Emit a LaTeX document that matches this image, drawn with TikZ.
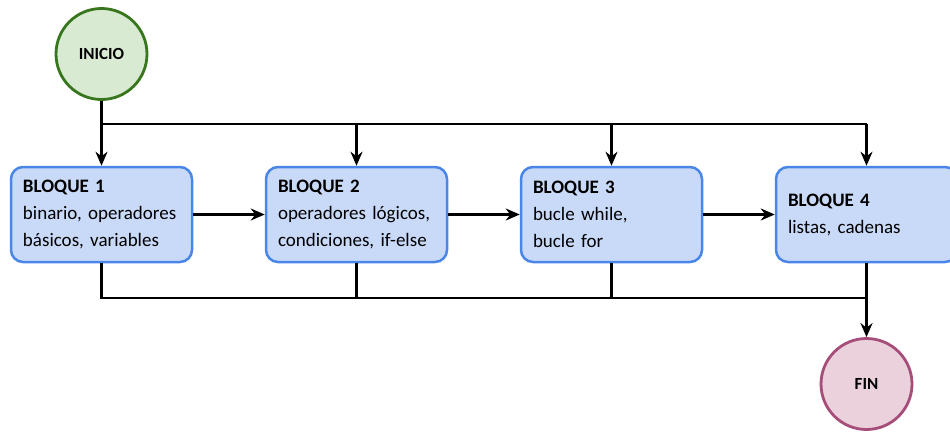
\documentclass[tikz,border=0pt]{standalone}
\usepackage{fontspec}
\setmainfont{Carlito}
\usetikzlibrary{arrows.meta}
\definecolor{blockfill}{HTML}{C9DAF8}
\definecolor{blockline}{HTML}{4A86E8}
\definecolor{startfill}{HTML}{D9EAD3}
\definecolor{startline}{HTML}{38761D}
\definecolor{endfill}{HTML}{EAD1DC}
\definecolor{endline}{HTML}{A64D79}
\tikzset{
  stepbox/.style={draw=blockline, fill=blockfill, line width=2.5pt, rounded corners=12pt,
    text width=157pt, inner xsep=12pt, inner ysep=0pt, minimum height=95pt, align=left,
    font=\fontsize{19}{27}\selectfont},
  terminal/.style={circle, line width=2.8pt, minimum size=91pt, inner sep=0pt,
    font=\fontsize{17}{20}\selectfont\bfseries},
  link/.style={line width=2.3pt, draw=black},
  arrow/.style={link, -{Stealth[length=14pt,width=12pt]}}
}
\begin{document}
\begin{tikzpicture}[x=1pt,y=-1pt]
\useasboundingbox (0,0) rectangle (950,431);
% start and end
\node[terminal, draw=startline, fill=startfill] (ini) at (101.5,54) {INICIO};
\node[terminal, draw=endline, fill=endfill] (fin) at (866.5,384) {FIN};
% blocks
\node[stepbox] (b1) at (101.5,214.5) {\textbf{BLOQUE 1}\\binario, operadores\\básicos, variables};
\node[stepbox] (b2) at (356.5,214.5) {\textbf{BLOQUE 2}\\operadores lógicos,\\condiciones, if-else};
\node[stepbox] (b3) at (611.5,214.5) {\textbf{BLOQUE 3}\\bucle while,\\bucle for};
\node[stepbox] (b4) at (866.5,214.5) {\textbf{BLOQUE 4}\\listas, cadenas};
% bus coordinates
\coordinate (t1) at (b1.north |- 0,124);
\coordinate (t2) at (b2.north |- 0,124);
\coordinate (t3) at (b3.north |- 0,124);
\coordinate (t4) at (b4.north |- 0,124);
\coordinate (u1) at (b1.south |- 0,298);
\coordinate (u2) at (b2.south |- 0,298);
\coordinate (u3) at (b3.south |- 0,298);
\coordinate (u4) at (b4.south |- 0,298);
% top distribution
\draw[link] (ini.south) -- (t1);
\draw[link] (t1) -- (t4);
\draw[arrow] (t1) -- (b1.north);
\draw[arrow] (t2) -- (b2.north);
\draw[arrow] (t3) -- (b3.north);
\draw[arrow] (t4) -- (b4.north);
% sequence
\draw[arrow] (b1.east) -- (b2.west);
\draw[arrow] (b2.east) -- (b3.west);
\draw[arrow] (b3.east) -- (b4.west);
% bottom collection
\draw[link] (b1.south) -- (u1) -- (u4);
\draw[link] (b2.south) -- (u2);
\draw[link] (b3.south) -- (u3);
\draw[arrow] (b4.south) -- (fin.north);
\end{tikzpicture}
\end{document}
